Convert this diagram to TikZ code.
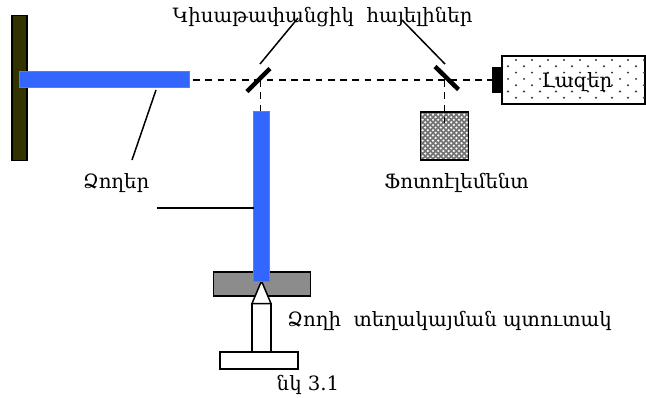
\documentclass[tikz,border=0pt]{standalone}
\usepackage{fontspec}
\setmainfont{DejaVu Serif}
\def\px{0.75pt}
\tikzset{
  box/.style={draw=black,line width=1.5*\px,inner sep=0pt,outer sep=0pt},
  rod/.style={fill=rodblue,draw=rodblue!85!white,line width=0.5*\px,inner sep=0pt,outer sep=0pt},
  lbl/.style={inner sep=0pt,outer sep=0pt,font=\fontsize{14.8}{16}\selectfont,text=black},
  leader/.style={draw=black,line width=1.5*\px},
  beam/.style={draw=black,line width=1.6*\px,dash pattern=on 5pt off 4.2pt},
  mirror/.style={draw=black,line width=4.5*\px},
}
\definecolor{rodblue}{HTML}{3366FF}
\definecolor{wallc}{HTML}{333300}
\definecolor{grayc}{HTML}{8C8C8C}
\begin{document}
\begin{tikzpicture}[x=0.75pt,y=-0.75pt]
\useasboundingbox (0,0) rectangle (646,397);
% wall
\node[box,fill=wallc,minimum width=15*\px,minimum height=145*\px] (wall) at (19.5,88) {};
% gray holder
\node[box,line width=1.3*\px,fill=grayc,minimum width=97*\px,minimum height=24*\px] (holder) at (262,284) {};
% horizontal rod
\node[rod,minimum width=170*\px,minimum height=16*\px] (rodh) at (104,79) {};
% screw
\node[box,fill=white,minimum width=78*\px,minimum height=17*\px] (base) at (259,360.5) {};
\node[box,fill=white,minimum width=19*\px,minimum height=48*\px] (shaft) at (261.5,327.5) {};
\draw[box,fill=white,line join=miter] (252,303.5) -- (261.5,281) -- (271,303.5) -- cycle;
% vertical rod
\node[rod,minimum width=16*\px,minimum height=170*\px] (rodv) at (261.5,196) {};
% laser
\node[box,fill=white,minimum width=143*\px,minimum height=48*\px] (laser) at (573.5,80) {};
\foreach \r in {0,2,4,6}{
  \foreach \c in {0,...,8}{
    \fill[black!80] (516+\c*16,60+\r*6.3) circle (1.1);
  }
}
\foreach \r in {1,3,5}{
  \foreach \c in {0,...,8}{
    \fill[black!80] (508+\c*16,60+\r*6.3) circle (1.1);
  }
}
\node[lbl] (laserlbl) at (577,82) {Լազեր};
\node[fill=black,inner sep=0pt,outer sep=0pt,minimum width=10*\px,minimum height=26*\px] (cap) at (497,80) {};
% photo element
\node[fill=black!55,inner sep=0pt,outer sep=0pt,minimum width=48*\px,minimum height=48*\px] (photoback) at (444.5,136) {};
\begin{scope}
\clip (420.5,112) rectangle (468.5,160);
\foreach \r in {0,...,18}{
  \foreach \c in {0,...,9}{
    \pgfmathsetmacro{\ox}{mod(\r,2)*2.6}
    \fill[white] (420+\c*5.2+\ox,112+\r*2.6) circle (1.2);
  }
}
\end{scope}
\node[box,minimum width=48*\px,minimum height=48*\px] (photo) at (444.5,136) {};
% mirrors
\coordinate (m1a) at (247,91.5);
\coordinate (m1b) at (270,68.5);
\coordinate (m2a) at (435,66.5);
\coordinate (m2b) at (458.5,89.5);
\draw[mirror] (m1a) -- (m1b);
\draw[mirror] (m2a) -- (m2b);
% beams
\coordinate (bh) at (260.5,80);
\coordinate (bp) at (444.5,80);
\coordinate (bpe) at (444.5,125);
\coordinate (bs) at (193,80);
\draw[beam] (bs) -- (cap.west);
\draw[beam] (bh) -- (260.5,111);
\draw[beam] (bp) -- (bpe);
% labels
\node[lbl] (mlbl) at (322.5,17) {Կիսաթափանցիկ\ \ հայելիներ};
\node[lbl] (rlbl) at (116,183) {Ձողեր};
\node[lbl] (plbl) at (456.5,183) {Ֆոտոէլեմենտ};
\node[lbl] (slbl) at (449.5,321) {Ձողի\ \ տեղակայման պտուտակ};
\node[lbl] (flbl) at (308,385) {նկ 3.1};
% leaders
\coordinate (l1a) at (260,64);
\coordinate (l1b) at (298,18);
\coordinate (l2a) at (445,64);
\coordinate (l2b) at (402,20);
\coordinate (l3a) at (156,90);
\coordinate (l3b) at (132,160);
\coordinate (l4a) at (157,208);
\draw[leader] (l1a) -- (l1b);
\draw[leader] (l2a) -- (l2b);
\draw[leader] (l3a) -- (l3b);
\draw[leader] (l4a) -- (rodv.west |- l4a);
\end{tikzpicture}
\end{document}
